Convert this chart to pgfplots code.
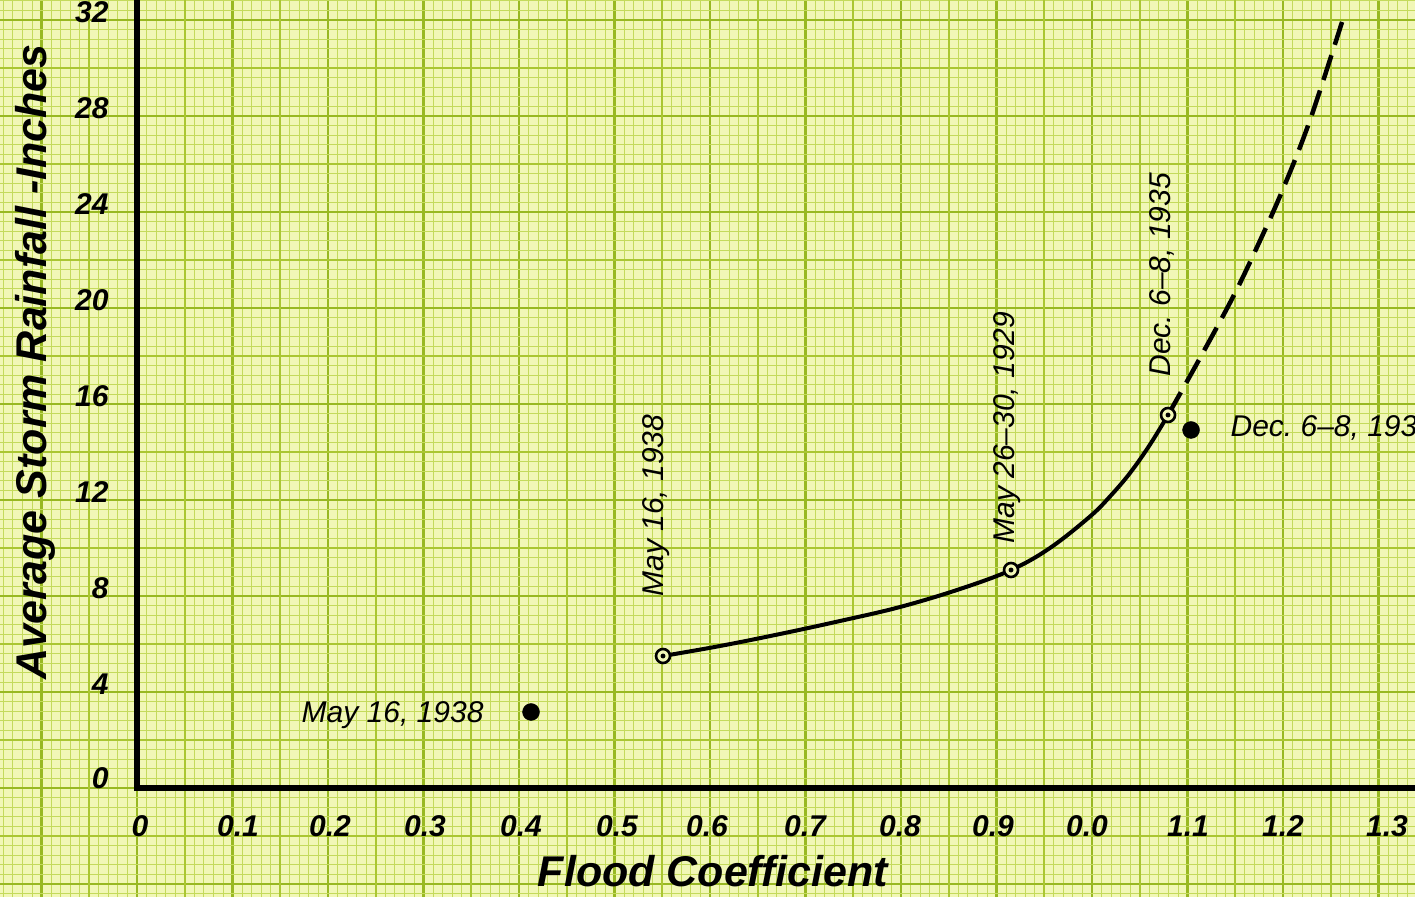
\documentclass[border=0pt]{standalone}
\usepackage{pgfplots}
\pgfplotsset{compat=1.18}
\usepackage{fontspec}
\setmainfont{Liberation Sans}
\definecolor{paper}{RGB}{241,247,182}
\definecolor{gminor}{RGB}{196,218,92}
\definecolor{gmed}{RGB}{170,198,50}
\definecolor{gmajor}{RGB}{152,184,34}
\newcommand{\tl}{\fontsize{30}{30}\selectfont\bfseries\itshape}
\newcommand{\an}{\fontsize{30}{30}\selectfont\itshape}
\newcommand{\al}{\fontsize{43}{43}\selectfont\bfseries\itshape}
\begin{document}
\begin{tikzpicture}
\useasboundingbox (0,0) rectangle (1415pt,897pt);
\begin{axis}[
  at={(0,0)}, anchor=south west,
  scale only axis, width=1415pt, height=897pt,
  xmin=-0.143455, xmax=1.33822, ymin=-4.541667, ymax=32.833333,
  axis line style={draw=none},
  axis background/.style={fill=paper},
  xtick={-0.1,0,0.1,0.2,0.3,0.4,0.5,0.6,0.7,0.8,0.9,1.0,1.1,1.2,1.3},
  ytick={-4,0,4,8,12,16,20,24,28,32},
  minor xtick={-0.14,-0.13,...,1.33},
  minor ytick={-4.4,-4.0,...,32.8},
  extra x ticks={-0.05,0.05,...,1.25},
  extra y ticks={-2,2,...,30},
  extra x tick labels={}, extra y tick labels={},
  extra tick style={major grid style={color=gmed, line width=1.6pt}},
  xticklabels={}, yticklabels={},
  major tick length=0pt, minor tick length=0pt,
  grid=both,
  minor grid style={color=gminor, line width=0.9pt},
  major grid style={color=gmajor, line width=2.4pt},
  every node/.style={inner sep=0pt},
]
% solid curve
\addplot[black, line width=4pt, smooth, tension=0.6] coordinates {
 (0.5508,5.500) (0.6105,5.917) (0.6733,6.417) (0.7361,6.958) (0.7990,7.542)
 (0.8618,8.292) (0.9152,9.083) (0.9560,10.000) (0.9979,11.313) (1.0188,12.146)
 (1.0398,13.125) (1.0607,14.308) (1.0796,15.542)};
% dashed extension
\addplot[black, line width=4.5pt, smooth, tension=0.6, dash pattern=on 26pt off 11pt] coordinates {
 (1.0796,15.542) (1.1131,17.917) (1.1476,20.458) (1.1738,22.625) (1.2000,24.958)
 (1.2283,27.833) (1.2618,31.917)};
% open circles
\addplot[only marks, mark=*, mark size=7pt, mark options={fill=paper, draw=black, line width=2.6pt}] coordinates {
 (0.5508,5.500) (0.9152,9.083) (1.0796,15.542)};
\addplot[only marks, mark=*, mark size=2.2pt, black] coordinates {
 (0.5508,5.500) (0.9152,9.083) (1.0796,15.542)};
% filled dots
\addplot[only marks, mark=*, mark size=8.5pt, black] coordinates {
 (0.4126,3.167) (1.1037,14.917)};
% axes
\draw[black, line width=5.5pt, line join=miter] (axis cs:0,33.5) -- (axis cs:0,0) -- (axis cs:1.36,0);
% y tick labels
\node[anchor=east] at (axis cs:-0.0262,32.33) {\tl 32};
\node[anchor=east] at (axis cs:-0.0262,28.33) {\tl 28};
\node[anchor=east] at (axis cs:-0.0262,24.33) {\tl 24};
\node[anchor=east] at (axis cs:-0.0262,20.33) {\tl 20};
\node[anchor=east] at (axis cs:-0.0262,16.33) {\tl 16};
\node[anchor=east] at (axis cs:-0.0262,12.33) {\tl 12};
\node[anchor=east] at (axis cs:-0.0262,8.33) {\tl 8};
\node[anchor=east] at (axis cs:-0.0262,4.33) {\tl 4};
\node[anchor=east] at (axis cs:-0.0262,0.42) {\tl 0};
% x tick labels
\node at (axis cs:0.003,-1.583) {\tl 0};
\node at (axis cs:0.1058,-1.583) {\tl 0.1};
\node at (axis cs:0.2021,-1.583) {\tl 0.2};
\node at (axis cs:0.3016,-1.583) {\tl 0.3};
\node at (axis cs:0.4021,-1.583) {\tl 0.4};
\node at (axis cs:0.5026,-1.583) {\tl 0.5};
\node at (axis cs:0.5969,-1.583) {\tl 0.6};
\node at (axis cs:0.6995,-1.583) {\tl 0.7};
\node at (axis cs:0.7990,-1.583) {\tl 0.8};
\node at (axis cs:0.8963,-1.583) {\tl 0.9};
\node at (axis cs:0.9948,-1.583) {\tl 0.0};
\node at (axis cs:1.1005,-1.583) {\tl 1.1};
\node at (axis cs:1.2000,-1.583) {\tl 1.2};
\node at (axis cs:1.3089,-1.583) {\tl 1.3};
% axis labels
\node at (axis cs:0.6031,-3.458) {\al Flood Coefficient};
\node[rotate=90] at (axis cs:-0.1068,17.75) {\al Average Storm Rainfall -Inches};
% annotations
\node[anchor=base east] at (axis cs:0.3665,2.71) {\an May 16, 1938};
\node[anchor=base west, rotate=90] at (axis cs:0.5508,7.83) {\an May 16, 1938};
\node[anchor=base west, rotate=90] at (axis cs:0.919,10.04) {\an May 26--30, 1929};
\node[anchor=base west, rotate=90] at (axis cs:1.0817,17.0) {\an Dec.\ 6--8, 1935};
\node[anchor=base west] at (axis cs:1.1414,14.625) {\an Dec.\ 6--8, 1935};
\end{axis}
\end{tikzpicture}
\end{document}
